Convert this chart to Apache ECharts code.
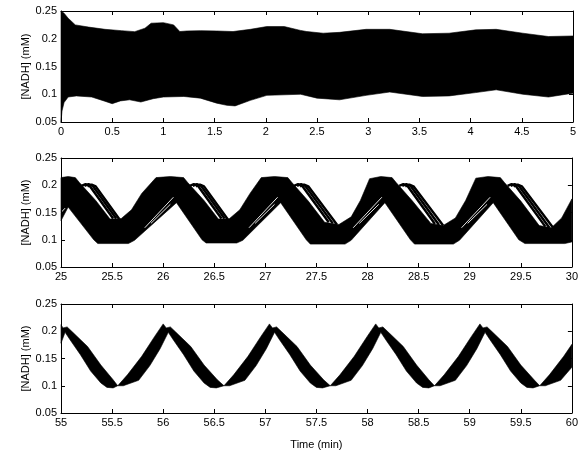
<!DOCTYPE html>
<html>
<head>
<meta charset="utf-8">
<script src="https://cdn.jsdelivr.net/npm/echarts@6/dist/echarts.min.js"></script>
<style>
html, body { margin: 0; padding: 0; background: #fff; }
#charts { width: 581px; height: 454px; }
</style>
</head>
<body>
<div id="charts"></div>
<script>
// ---- data: [time (min), NADH (mM)] ----

// panel 1 (0-5 min): outline of the ensemble
var p1Upper = [
    [0, 0.25], [0.03, 0.246], [0.07, 0.237], [0.14, 0.225], [0.27, 0.221], [0.43, 0.217],
    [0.59, 0.2146], [0.72, 0.2128], [0.82, 0.219], [0.88, 0.228], [1.0, 0.229], [1.1, 0.225],
    [1.16, 0.213], [1.23, 0.214], [1.36, 0.2146], [1.52, 0.214], [1.68, 0.213], [1.85, 0.217],
    [2.01, 0.222], [2.18, 0.222], [2.34, 0.215], [2.4, 0.213], [2.56, 0.21], [2.72, 0.2115],
    [2.98, 0.217], [3.21, 0.217], [3.53, 0.209], [3.79, 0.21], [4.05, 0.216], [4.25, 0.217],
    [4.51, 0.21], [4.76, 0.204], [5.0, 0.205]
];
var p1Lower = [
    [0, 0.05], [0.01, 0.07], [0.03, 0.085], [0.07, 0.095], [0.15, 0.097], [0.3, 0.095],
    [0.42, 0.088], [0.5, 0.083], [0.58, 0.088], [0.67, 0.09], [0.78, 0.086], [0.9, 0.092],
    [1.0, 0.095], [1.2, 0.096], [1.36, 0.093], [1.52, 0.084], [1.62, 0.08], [1.7, 0.079],
    [1.85, 0.089], [2.01, 0.098], [2.34, 0.1], [2.5, 0.093], [2.72, 0.09], [2.98, 0.098],
    [3.21, 0.104], [3.53, 0.096], [3.79, 0.097], [4.05, 0.103], [4.25, 0.108], [4.51, 0.1],
    [4.76, 0.095], [5.0, 0.102]
];

// panel 2 (25-30 min): main body of the ensemble
var p2Upper = [
    [25.0, 0.214], [25.07, 0.216], [25.14, 0.214],
    [25.18, 0.205], [25.34, 0.172], [25.48, 0.138], [25.59, 0.139], [25.69, 0.155], [25.79, 0.185], [25.93, 0.214],
    [26.07, 0.216], [26.2, 0.214],
    [26.24, 0.205], [26.4, 0.172], [26.54, 0.138], [26.65, 0.139], [26.75, 0.155], [26.85, 0.185], [26.96, 0.214],
    [27.09, 0.216], [27.22, 0.214],
    [27.26, 0.205], [27.42, 0.171], [27.58, 0.132], [27.72, 0.128], [27.84, 0.142], [27.93, 0.172], [28.02, 0.212],
    [28.13, 0.216], [28.24, 0.214],
    [28.28, 0.205], [28.44, 0.171], [28.62, 0.13], [28.74, 0.126], [28.86, 0.14], [28.96, 0.172], [29.06, 0.213],
    [29.18, 0.216], [29.3, 0.214],
    [29.34, 0.205], [29.5, 0.171], [29.68, 0.126], [29.8, 0.122], [29.9, 0.14], [30.0, 0.175]
];
var p2Lower = [
    [25.0, 0.135], [25.07, 0.16],
    [25.32, 0.1], [25.36, 0.093], [25.66, 0.093], [25.72, 0.099], [26.13, 0.168],
    [26.38, 0.1], [26.42, 0.094], [26.72, 0.094], [26.78, 0.099], [27.15, 0.168],
    [27.4, 0.1], [27.44, 0.092], [27.78, 0.092], [27.84, 0.099], [28.17, 0.168],
    [28.42, 0.1], [28.46, 0.092], [28.84, 0.092], [28.9, 0.099], [29.23, 0.168],
    [29.48, 0.1], [29.54, 0.093], [29.93, 0.093], [30.0, 0.096]
];
// lagging traces that fall behind after each peak
var p2Strands = [
    [[25.2, 0.199], [25.24, 0.202], [25.28, 0.199], [25.51, 0.139]],
    [[25.23, 0.199], [25.27, 0.202], [25.31, 0.199], [25.54, 0.139]],
    [[25.26, 0.198], [25.3, 0.201], [25.34, 0.198], [25.57, 0.138]],
    [[26.26, 0.199], [26.3, 0.202], [26.34, 0.199], [26.57, 0.139]],
    [[26.29, 0.199], [26.33, 0.202], [26.37, 0.199], [26.6, 0.139]],
    [[26.32, 0.198], [26.36, 0.201], [26.4, 0.198], [26.63, 0.138]],
    [[27.28, 0.199], [27.32, 0.202], [27.36, 0.199], [27.62, 0.132]],
    [[27.31, 0.199], [27.35, 0.202], [27.39, 0.199], [27.66, 0.13]],
    [[27.34, 0.198], [27.38, 0.201], [27.42, 0.198], [27.7, 0.128]],
    [[28.31, 0.199], [28.35, 0.202], [28.39, 0.199], [28.66, 0.129]],
    [[28.34, 0.199], [28.38, 0.202], [28.42, 0.199], [28.7, 0.127]],
    [[28.37, 0.198], [28.41, 0.201], [28.45, 0.198], [28.74, 0.126]],
    [[29.37, 0.199], [29.41, 0.202], [29.45, 0.199], [29.74, 0.124]],
    [[29.4, 0.199], [29.44, 0.202], [29.48, 0.199], [29.78, 0.122]],
    [[29.43, 0.198], [29.47, 0.201], [29.51, 0.198], [29.82, 0.121]]
];
// thin white gaps between the rising lagging traces
var p2Gaps = [
    [[25.0, 0.15], [25.04, 0.158]],
    [[25.82, 0.122], [26.1, 0.178]], [[25.88, 0.13], [26.07, 0.165]],
    [[26.84, 0.122], [27.12, 0.178]], [[26.9, 0.13], [27.09, 0.165]],
    [[27.86, 0.122], [28.14, 0.178]], [[27.92, 0.13], [28.11, 0.165]],
    [[28.92, 0.122], [29.2, 0.178]], [[28.98, 0.13], [29.17, 0.165]]
];

// panel 3 (55-60 min): synchronised band
var p3Upper = [
    [55.0, 0.212], [55.02, 0.206], [55.06, 0.208], [55.11, 0.199], [55.26, 0.172], [55.39, 0.138], [55.51, 0.111], [55.555, 0.1],
    [55.65, 0.12], [55.79, 0.154], [55.915, 0.19], [56.0, 0.2135], [56.03, 0.206], [56.07, 0.208], [56.12, 0.199],
    [56.27, 0.172], [56.4, 0.138], [56.53, 0.111], [56.595, 0.1],
    [56.69, 0.12], [56.83, 0.154], [56.955, 0.19], [57.04, 0.2135], [57.07, 0.206], [57.11, 0.208], [57.16, 0.199],
    [57.31, 0.172], [57.44, 0.138], [57.57, 0.111], [57.635, 0.1],
    [57.73, 0.12], [57.87, 0.154], [57.995, 0.19], [58.08, 0.2135], [58.11, 0.206], [58.15, 0.208], [58.2, 0.199],
    [58.35, 0.172], [58.48, 0.138], [58.6, 0.111], [58.655, 0.1],
    [58.75, 0.12], [58.89, 0.154], [59.015, 0.19], [59.1, 0.2135], [59.13, 0.206], [59.17, 0.208], [59.22, 0.199],
    [59.37, 0.172], [59.5, 0.138], [59.63, 0.111], [59.685, 0.1],
    [59.78, 0.12], [59.92, 0.154], [60.0, 0.176]
];
var p3Lower = [
    [55.0, 0.178], [55.04, 0.198], [55.09, 0.184], [55.19, 0.157], [55.29, 0.127], [55.39, 0.105], [55.45, 0.097], [55.51, 0.096], [55.555, 0.1],
    [55.61, 0.1], [55.76, 0.11], [55.87, 0.137], [55.97, 0.168], [56.05, 0.198], [56.1, 0.184], [56.2, 0.157],
    [56.3, 0.127], [56.4, 0.105], [56.46, 0.097], [56.52, 0.096], [56.595, 0.1],
    [56.65, 0.1], [56.8, 0.11], [56.91, 0.137], [57.01, 0.168], [57.09, 0.198], [57.14, 0.184], [57.24, 0.157],
    [57.34, 0.127], [57.44, 0.105], [57.5, 0.097], [57.56, 0.096], [57.635, 0.1],
    [57.69, 0.1], [57.84, 0.11], [57.95, 0.137], [58.05, 0.168], [58.13, 0.198], [58.18, 0.184], [58.28, 0.157],
    [58.38, 0.127], [58.48, 0.105], [58.54, 0.097], [58.6, 0.096], [58.655, 0.1],
    [58.71, 0.1], [58.86, 0.11], [58.97, 0.137], [59.07, 0.168], [59.15, 0.198], [59.2, 0.184], [59.3, 0.157],
    [59.4, 0.127], [59.5, 0.105], [59.56, 0.097], [59.62, 0.096], [59.685, 0.1],
    [59.74, 0.1], [59.89, 0.11], [60.0, 0.134]
];

var xRanges = [[0, 5], [25, 30], [55, 60]];
var yTicks = [0.05, 0.1, 0.15, 0.2, 0.25];
var yLabel = '[NADH] (mM)';
var xLabel = 'Time (min)';

// ---- chart ----
var font = '"Liberation Sans", Arial, Helvetica, sans-serif';
var gridTops = [11, 158, 304];
var gridHeights = [111, 109, 109];

var grids = [], xAxes = [], yAxes = [], series = [];

gridTops.forEach(function (top, i) {
    grids.push({ left: 61, right: 8, top: top, height: gridHeights[i] });
    var lineStyle = { color: '#000', width: 1 };
    var tick = { show: true, inside: true, length: 4, lineStyle: lineStyle };
    xAxes.push({
        type: 'value', gridIndex: i, position: 'bottom',
        min: xRanges[i][0], max: xRanges[i][1], interval: 0.5,
        axisLine: { show: true, lineStyle: lineStyle },
        axisTick: tick,
        axisLabel: { color: '#000', fontSize: 11, fontFamily: font, margin: 4 },
        splitLine: { show: false },
        name: i === 2 ? xLabel : '',
        nameLocation: 'middle', nameGap: 26, nameMoveOverlap: false,
        nameTextStyle: { color: '#000', fontSize: 11, fontFamily: font },
        z: 10
    });
    xAxes.push({
        type: 'value', gridIndex: i, position: 'top',
        min: xRanges[i][0], max: xRanges[i][1], interval: 0.5,
        axisLine: { show: true, onZero: false, lineStyle: lineStyle },
        axisTick: tick, axisLabel: { show: false }, splitLine: { show: false },
        z: 10
    });
    yAxes.push({
        type: 'value', gridIndex: i, position: 'left',
        min: yTicks[0], max: yTicks[yTicks.length - 1], interval: 0.05,
        axisLine: { show: true, onZero: false, lineStyle: lineStyle },
        axisTick: tick,
        axisLabel: { color: '#000', fontSize: 11, fontFamily: font, margin: 4 },
        splitLine: { show: false },
        name: yLabel, nameLocation: 'middle', nameGap: 30, nameRotate: 90, nameMoveOverlap: false,
        nameTextStyle: { color: '#000', fontSize: 11, fontFamily: font },
        z: 10
    });
    yAxes.push({
        type: 'value', gridIndex: i, position: 'right',
        min: yTicks[0], max: yTicks[yTicks.length - 1], interval: 0.05,
        axisLine: { show: true, onZero: false, lineStyle: lineStyle },
        axisTick: tick, axisLabel: { show: false }, splitLine: { show: false },
        z: 10
    });
});

function bandSeries(panel, upper, lower) {
    var pts = upper.concat(lower.slice().reverse());
    return {
        type: 'custom',
        xAxisIndex: panel * 2, yAxisIndex: panel * 2,
        data: pts, silent: true, animation: false, z: 2,
        renderItem: function (params, api) {
            if (params.dataIndex !== 0) return;
            return {
                type: 'polygon',
                shape: { points: pts.map(function (p) { return api.coord(p); }) },
                style: { fill: '#000', stroke: '#000', lineWidth: 0.6 }
            };
        }
    };
}

function traceSeries(panel, pts, color, width, z) {
    return {
        type: 'line',
        xAxisIndex: panel * 2, yAxisIndex: panel * 2,
        data: pts, symbol: 'none', showSymbol: false,
        lineStyle: { color: color, width: width },
        silent: true, animation: false, z: z
    };
}

series.push(bandSeries(0, p1Upper, p1Lower));
series.push(bandSeries(1, p2Upper, p2Lower));
p2Strands.forEach(function (s) { series.push(traceSeries(1, s, '#000', 2.4, 3)); });
p2Gaps.forEach(function (s) { series.push(traceSeries(1, s, '#fff', 0.9, 4)); });
series.push(bandSeries(2, p3Upper, p3Lower));

var myChart = echarts.init(document.getElementById('charts'));
myChart.setOption({
    animation: false,
    backgroundColor: '#fff',
    textStyle: { fontFamily: font },
    grid: grids,
    xAxis: xAxes,
    yAxis: yAxes,
    series: series
});
</script>
</body>
</html>
